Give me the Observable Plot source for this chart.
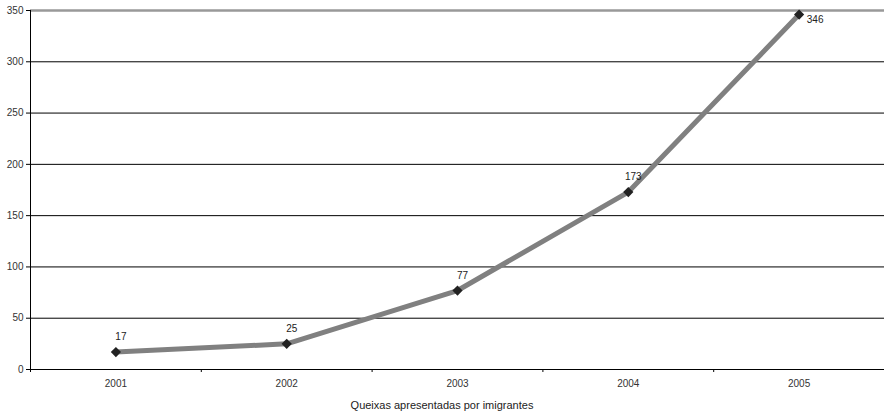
<!DOCTYPE html>
<html>
<head>
<meta charset="utf-8">
<script src="https://cdn.jsdelivr.net/npm/d3@7"></script>
<script src="https://cdn.jsdelivr.net/npm/@observablehq/plot@0.6"></script>
<style>
  body { margin: 0; background: #fff; font-family: "Liberation Sans", Arial, sans-serif; }
  #caption { width: 884px; text-align: center; font-size: 11px; line-height: 13px; color: #222; margin-top: 9px; }
</style>
</head>
<body>
<div id="chart"></div>
<div id="caption">Queixas apresentadas por imigrantes</div>
<script>
// Complaints filed by immigrants, per year
const years = [2001, 2002, 2003, 2004, 2005];
const complaints = [17, 25, 77, 173, 346];
const yTicks = [0, 50, 100, 150, 200, 250, 300, 350];
const gridLines = [50, 100, 150, 200, 250, 300];
const topLine = [350];

const data = years.map((year, i) => ({ year, value: complaints[i] }));
// category boundaries between consecutive years (tick marks on the x axis)
const boundaries = years.slice(0, -1).map(y => y + 0.5);
const lastIndex = data.length - 1;

const chart = Plot.plot({
  width: 884,
  height: 390,
  marginLeft: 30,
  marginRight: 0,
  marginTop: 10,
  marginBottom: 21,
  style: { fontFamily: "'Liberation Sans', Arial, sans-serif", fontSize: "10px", color: "#333", background: "#fff", overflow: "visible" },
  x: { domain: [years[0] - 0.5, years[years.length - 1] + 0.5], axis: null },
  y: { domain: [0, 350], axis: null },
  marks: [
    Plot.ruleY(gridLines, { stroke: "#000", strokeWidth: 1 }),
    Plot.ruleY(topLine, { stroke: "#999", strokeWidth: 2.5 }),
    Plot.axisY(yTicks, { tickSize: 4, tickPadding: 3, stroke: "#000", strokeOpacity: 1, fill: "#333", label: null }),
    Plot.ruleX([years[0] - 0.5], { stroke: "#000", insetBottom: -3 }),
    Plot.ruleY([0], { stroke: "#000" }),
    Plot.axisX(boundaries, { tickSize: 3, tickFormat: () => "", stroke: "#000", strokeOpacity: 1, label: null }),
    Plot.axisX(years, { tickSize: 0, tickPadding: 10, tickFormat: d => String(d), fill: "#333", label: null }),
    Plot.line(data, { x: "year", y: "value", stroke: "#808080", strokeWidth: 5 }),
    Plot.dot(data, { x: "year", y: "value", symbol: "diamond2", r: 4.6, fill: "#222", stroke: "none" }),
    Plot.text(data.filter((d, i) => i < lastIndex), { x: "year", y: "value", text: d => String(d.value), dx: 5, dy: -15, fill: "#222", fontSize: 10 }),
    Plot.text(data.filter((d, i) => i === lastIndex), { x: "year", y: "value", text: d => String(d.value), dx: 16, dy: 5, fill: "#222", fontSize: 10 })
  ]
});
document.getElementById("chart").appendChild(chart);
</script>
</body>
</html>
